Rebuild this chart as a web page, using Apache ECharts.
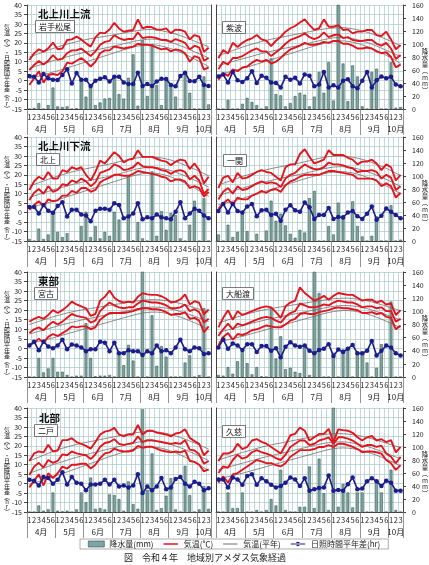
<!DOCTYPE html>
<html><head><meta charset="utf-8">
<script src="https://cdn.jsdelivr.net/npm/echarts@6/dist/echarts.min.js"></script>
<style>html,body{margin:0;padding:0;background:#fff}#c{width:429px;height:565px}</style>
</head><body><div id="c"></div>
<script>
const pentads = ['1','2','3','4','5','6','1','2','3','4','5','6','1','2','3','4','5','6','1','2','3','4','5','6','1','2','3','4','5','6','1','2','3','4','5','6','1','2','3'];
const months = ['4月','5月','6月','7月','8月','9月','10月'];
const monthStarts = [0,6,12,18,24,30,36,39];
const monthCenters = [3,9,15,21,27,33,37.5];
const regionNames = ['北上川上流','北上川下流','東部','北部'];
const stationNames = ['岩手松尾','紫波','北上','一関','宮古','大船渡','二戸','久慈'];
const seriesNames = ['降水量(mm)','気温(℃)','気温(平年)','日照時間平年差(hr)'];
const leftTitle = '気温(℃)・日照時間平年差(hr)';
const rightTitle = '降水量(mm)';
const figTitle = '図　令和４年　地域別アメダス気象経過';

// 岩手松尾
const matsuoMax = [10.9,14.4,16.6,15.3,17.1,20.1,16.6,17,21.5,21.8,23.3,21.8,19.7,18,22.9,25.4,25,27,30.6,27.6,25.9,26.4,26.8,32.4,27.6,28.5,28.2,27,27,27.6,25,27,26.8,25.9,21.8,24.1,23.3,15.3,17.4];
const matsuoMean = [5.6,8.3,10.4,8.5,10.5,13.5,11,11.5,14.5,16,16,17,15,13,15.5,19,20.5,21,24,22.5,21.5,22,22,25.5,22.5,23,23,22.5,21.5,21.5,20.5,22,21,20,16.5,18.5,17.5,10.5,12];
const matsuoMin = [-2.3,1.2,5,-1.1,3,3.5,3,5,9.5,9,10.5,12,10,7.5,10,14.5,16,16,18,17.5,17,17.5,18,19.5,19,19,18.5,17.5,16.5,17,15.5,16.5,16,14.5,10,13,12,5.8,7];
const matsuoNMax = [12.5,13.4,14.3,15.2,16.1,17.0,17.8,18.6,19.3,20.0,20.6,21.2,21.7,22.2,22.6,23.0,23.4,23.8,24.2,24.7,25.2,25.7,26.1,26.5,26.8,27.0,27.0,26.8,26.4,25.9,25.3,24.6,23.8,22.9,21.9,20.9,19.9,18.9,17.9];
const matsuoNMean = [6.5,7.3,8.1,8.9,9.7,10.5,11.2,11.9,12.6,13.3,13.9,14.5,15.1,15.7,16.2,16.7,17.2,17.7,18.3,18.9,19.5,20.1,20.7,21.2,21.6,21.9,22.0,21.8,21.4,20.9,20.2,19.4,18.5,17.5,16.4,15.3,14.2,13.1,12.0];
const matsuoNMin = [1.0,1.7,2.4,3.1,3.8,4.5,5.2,5.9,6.7,7.5,8.3,9.1,9.9,10.7,11.5,12.3,13.1,13.9,14.7,15.5,16.3,17.0,17.7,18.3,18.7,19.0,19.0,18.8,18.3,17.7,16.9,16.0,15.0,13.9,12.7,11.4,10.1,8.8,7.5];
const matsuoSun = [2.4,2,-1,3.5,1.2,0.5,0.4,3,6,-1.5,4,0.5,0.5,-2.9,0,1,1.8,-0.5,2,2,-1,-1.8,-1.8,4.2,-2.8,-1.8,-2.8,-0.5,1,0.8,-2.3,-3,2.4,4.2,-0.2,-0.3,2,-2.3,-2.8];
const matsuoPrec = [0,1.5,9,0,6,33,4,3,4,0,1,44,19,33,6,10,16,17,46,23,16,48,84,5,106,20,100,37,6,47,38,19,0,54,25,0,0,50,7];

// 紫波
const shiwaMax = [11.8,16.2,14.4,20,17.8,20,21.5,22.4,24.1,21.8,21.1,18.3,21.1,23.2,25.9,27.7,28.9,30.7,32.4,29.4,26.8,27.7,32.4,28.5,28.5,29.4,26.8,27.1,25,25.9,25.9,26.8,26.8,24.1,23.6,25.9,21.8,16.6,18.8];
const shiwaMean = [6,10,8.5,12,12,13,14.5,16,17,15.5,15.5,13,15,17,19.5,21.5,22.5,23.5,25,23,22,23,25.5,23,24,24.5,22.5,23,21.5,21,21,21.5,21.5,19.5,18.5,20,17,11.5,13.5];
const shiwaMin = [0.5,4,2.5,6,5,7,7.5,9.5,11,10,11,9,10,12,14.5,16.5,17.5,18.5,20,19,19,19.5,20.5,20,21,21,19.5,19.5,18.5,17,17,17.5,17,15.5,14.5,15,12.5,7,8.5];
const shiwaNMax = [13.2,14.1,15.0,15.9,16.8,17.7,18.5,19.3,20.0,20.7,21.3,21.9,22.4,22.9,23.4,23.9,24.4,24.9,25.4,25.9,26.4,26.9,27.3,27.6,27.8,28.0,28.0,27.8,27.4,26.9,26.3,25.6,24.8,23.9,22.9,21.9,20.8,19.6,18.3];
const shiwaNMean = [8.0,8.7,9.4,10.1,10.8,11.5,12.2,12.9,13.6,14.3,14.9,15.5,16.1,16.7,17.2,17.7,18.2,18.7,19.3,19.9,20.5,21.1,21.7,22.2,22.6,22.8,22.8,22.6,22.2,21.7,21.0,20.2,19.3,18.3,17.2,16.1,15.0,13.9,12.8];
const shiwaNMin = [3.0,3.7,4.4,5.1,5.8,6.5,7.2,7.9,8.7,9.5,10.3,11.1,11.9,12.7,13.5,14.3,15.1,15.9,16.7,17.5,18.3,19.0,19.7,20.3,20.7,21.0,21.0,20.8,20.3,19.7,18.9,18.0,17.0,15.9,14.7,13.4,12.1,10.6,9.0];
const shiwaSun = [2.2,3.2,-1,4.6,0.2,-0.7,1.2,5,-1.2,2.6,1.5,-1,-1.2,-3.6,2,0.5,1.5,-1.5,3.3,2.6,-3,-2,4.6,-3.6,-2.5,-3.6,0,0.7,-3,-4,0,4.6,-3.6,0.2,2.2,1.2,2,-2,-3];
const shiwaPrec = [0,0,14,0,0,8,17,11,6,0,4,78,23,21,4,9,20,25,22,4,19,57,25,72,13,165,70,12,67,50,4,0,57,62,0,0,72,2,3];

// 北上
const kitakamiMax = [12,16.5,19,17.5,21.5,18,18,22.5,21.5,24,23,24,20,17,21.5,27.5,26,29,32,30,26.5,28,28.5,33,29.5,29.5,29.5,28.5,27.5,27,25,27,28,27.5,23,26,22.5,15.5,19];
const kitakamiMean = [6.5,10.5,12.5,10,14,11,12,15,14.5,17,16,18,16.5,14,16,21,22,23,25.5,24.5,22.5,23,24,26.5,24.5,24,24,23.5,22.5,22,20.5,22,22.5,21.5,17.5,19.5,17,10,12.5];
const kitakamiMin = [1.5,4,6,3.5,7,6,6.5,9,9,11.5,10.5,13,13,11,12,16,17.5,18.5,20,20,19.5,19.5,20.5,22,21.5,21,20.5,20,19,18.5,16.5,17.5,17.5,16.5,13,14,13,8.5,11];
const kitakamiNMax = [14.0,14.9,15.8,16.7,17.6,18.5,19.3,20.1,20.8,21.5,22.1,22.7,23.2,23.7,24.2,24.7,25.2,25.7,26.3,26.9,27.5,28.1,28.6,29.0,29.3,29.5,29.5,29.3,28.9,28.4,27.8,27.0,26.1,25.1,24.1,23.0,21.9,20.7,19.5];
const kitakamiNMean = [8.0,8.8,9.6,10.4,11.2,12.0,12.7,13.4,14.1,14.8,15.4,16.0,16.6,17.2,17.7,18.2,18.7,19.2,19.8,20.5,21.2,21.9,22.6,23.2,23.6,23.9,24.0,23.8,23.4,22.9,22.2,21.4,20.4,19.4,18.3,17.2,16.1,14.8,13.5];
const kitakamiNMin = [2.5,3.2,3.9,4.6,5.3,6.0,6.8,7.6,8.4,9.2,10.0,10.8,11.6,12.4,13.2,14.0,14.8,15.6,16.4,17.2,18.0,18.8,19.5,20.1,20.6,20.9,21.0,20.8,20.3,19.7,18.9,17.9,16.8,15.6,14.3,13.0,11.6,10.1,8.6];
const kitakamiSun = [3,3,-0.5,4,1,0,3.5,5.5,-2,1.5,1.5,-1,-1.5,-4.5,1,2,2,1.5,5,4,-3,-2,-0.5,5,-3.5,-2.5,-3,-1,-2.5,-3,-3.5,0.5,5.5,-3,-0.5,2,1,-1.5,-3];
const kitakamiPrec = [3,0,19,3,10,45,14,6,12,0,0,23,45,6,23,4,14,8,45,33,0,100,1,29,4,0,107,8,46,17,43,40,4,0,25,62,0,66,0];

// 一関
const ichinosekiMax = [13,18.5,19.5,16,21,18,18.5,20,21.5,22.5,21.5,21,19,17,24,25.5,25.5,31,33.5,29.5,26,27,28,33,30.5,30.5,30.5,29,28,25.5,27,27,28,26,22.5,25.5,24,17,20];
const ichinosekiMean = [7,11,13,10,14,12,12.5,14,15.5,16.5,15.5,16,15.5,13.5,18,20,21,23.5,25.5,24,23,23,24,26.5,25.5,25.5,25,24,23.5,21.5,22,22,22.5,21.5,18,20,18.5,12,14];
const ichinosekiMin = [2,5,7,4,8,7,7,9,10,11.5,10.5,12,12.5,11,14.5,16.5,17.5,19,20,20,20,20,21,22,22,21.5,21,20.5,20,18,18,18,18,17,14,15.5,14,8,10.5];
const ichinosekiNMax = [14.6,15.5,16.4,17.3,18.2,19.1,19.9,20.7,21.4,22.1,22.7,23.3,23.8,24.3,24.8,25.3,25.8,26.3,26.9,27.5,28.1,28.7,29.2,29.6,29.8,29.9,29.9,29.7,29.3,28.8,28.2,27.4,26.5,25.5,24.5,23.4,22.2,20.9,19.6];
const ichinosekiNMean = [9.0,9.8,10.6,11.4,12.2,13.0,13.7,14.4,15.1,15.8,16.4,17.0,17.6,18.2,18.7,19.2,19.7,20.2,20.8,21.4,22.0,22.6,23.2,23.7,24.1,24.3,24.3,24.1,23.7,23.2,22.5,21.7,20.8,19.8,18.7,17.6,16.4,15.1,13.8];
const ichinosekiNMin = [4.0,4.7,5.4,6.1,6.8,7.5,8.3,9.1,9.9,10.7,11.5,12.3,13.1,13.9,14.7,15.5,16.3,17.1,17.9,18.6,19.3,20.0,20.6,21.1,21.4,21.6,21.6,21.4,21.0,20.4,19.6,18.7,17.7,16.6,15.4,14.1,12.8,11.4,10.0];
const ichinosekiSun = [0.8,4.6,0.1,4.6,0.8,0.1,3.2,4.6,-1.9,1.2,1.5,-1.3,-0.6,-4.3,1.5,3.9,1.2,0.5,5.3,2.9,-3.3,-1.3,-1.3,2.5,-3.3,-2.3,-2.6,0.1,0.8,-1.9,-3.3,-0.6,3.2,-3.7,-1.6,2.2,0.5,-1.3,-3];
const ichinosekiPrec = [10,0,25,6,14,42,15,0,11,0,16,62,31,42,24,11,5,17,13,66,77,0,0,23,10,59,40,0,61,23,7,0,8,38,0,0,55,0,2];

// 宮古
const miyakoMax = [13.9,15.5,16.5,15.5,17.5,20,18.5,20,22,24.5,23,22,21,17,18,25,27,30.3,26.5,24.8,24,24.5,24,27,28.9,28.3,28,28,27.3,26,24,24.5,25.6,28.3,23,24.7,23.9,17.8,20.4];
const miyakoMean = [8,10,11,9.5,12,14,12.5,14,16,18,17,16.5,16,13.5,14.5,19.5,22,24,22.5,21.5,21,21.5,21.5,23.5,25,24.5,24,24,23.5,22.5,21,21,21.5,23,19.5,20.5,19,13.5,15.5];
const miyakoMin = [1.5,3,5,3,6,7.5,6.5,8,9.5,11.5,11,11.5,11.5,10,11,15,17,18.5,18.5,18.5,18.5,19,19.5,20.5,21,21,20.5,20.5,20,19,17.5,18,18,19,15.5,16,14.5,8.5,11.5];
const miyakoNMax = [12.5,13.3,14.1,14.9,15.7,16.5,17.2,17.9,18.5,19.1,19.6,20.1,20.5,20.9,21.3,21.7,22.1,22.5,22.9,23.3,23.7,24.1,24.5,24.9,25.2,25.4,25.5,25.5,25.3,25.0,24.6,24.1,23.5,22.8,22.1,21.3,20.5,19.7,18.9];
const miyakoNMean = [7.5,8.2,8.9,9.6,10.3,11.0,11.7,12.4,13.0,13.6,14.2,14.8,15.3,15.8,16.3,16.8,17.3,17.8,18.3,18.8,19.3,19.8,20.3,20.8,21.2,21.5,21.6,21.6,21.4,21.1,20.6,20.0,19.3,18.5,17.7,16.8,15.9,15.0,14.0];
const miyakoNMin = [2.5,3.1,3.7,4.3,4.9,5.5,6.2,6.9,7.6,8.3,9.0,9.7,10.4,11.1,11.8,12.5,13.2,13.9,14.6,15.3,16.0,16.7,17.4,18.0,18.5,18.8,19.0,19.0,18.8,18.4,17.9,17.2,16.4,15.5,14.5,13.4,12.3,11.1,9.9];
const miyakoSun = [1.5,3.5,-1,3.5,1,0,1.5,4.5,-0.5,2,1.5,0.5,-1.5,-0.5,-0.5,3.5,3,-1.5,3,-2.5,-2.5,-1,-1.5,-1.5,-3.5,-1.5,-2.5,1.5,-1.5,-1,-2.5,0.5,4.5,-0.5,-1.5,0.5,0,-3,-2.5];
const miyakoPrec = [0,0,29,7,13,29,8,8,3,0,2,2,82,29,1,2,2,3,0,35,18,49,25,0,170,0,94,17,47,31,0,0,0,22,33,0,3,105,0];

// 大船渡
const ofunatoMax = [11,16,20,15,19.5,17.5,18.5,19.5,20.5,21.5,22,21.5,19,16,22,24,25,32,29,27,25,26,27.5,25.5,27.5,29,28.5,28,28,26.5,25,25.5,25.5,24,25,23,23.5,17.5,20];
const ofunatoMean = [6.5,10,13,10,13,12,13,14,15,16,16.5,16,14.5,13.5,16.5,18.5,19.5,23.5,22.5,21.5,21.5,22,23,22.5,24,25,24.5,24,24,23,21.5,22,22,21,21.5,19.5,19.5,14,15.5];
const ofunatoMin = [1.5,6,8,4.5,7.5,7,8,9.5,10,11,12,11.5,11,11,12.5,14.5,15.5,18,18.5,18,18,19,19.5,20,21,21.5,21,21,20.5,20,18.5,18.5,19,18,18.5,16.5,16,10,12];
const ofunatoNMax = [13.3,14.1,14.9,15.7,16.5,17.3,18.0,18.7,19.3,19.9,20.4,20.9,21.3,21.7,22.1,22.5,22.9,23.3,23.7,24.1,24.5,24.9,25.3,25.7,26.0,26.2,26.3,26.3,26.1,25.8,25.4,24.9,24.3,23.6,22.9,22.1,21.3,20.5,19.7];
const ofunatoNMean = [8.3,9.0,9.7,10.4,11.1,11.8,12.5,13.2,13.8,14.4,15.0,15.6,16.1,16.6,17.1,17.6,18.1,18.6,19.1,19.6,20.1,20.6,21.1,21.6,22.0,22.3,22.4,22.4,22.2,21.9,21.4,20.8,20.1,19.3,18.5,17.6,16.7,15.8,14.8];
const ofunatoNMin = [3.3,3.9,4.5,5.1,5.7,6.3,7.0,7.7,8.4,9.1,9.8,10.5,11.2,11.9,12.6,13.3,14.0,14.7,15.4,16.1,16.8,17.5,18.2,18.8,19.3,19.6,19.8,19.8,19.6,19.2,18.7,18.0,17.2,16.3,15.3,14.2,13.1,11.9,10.7];
const ofunatoSun = [0.5,4.6,-0.2,2.5,1.5,-0.9,2.2,2.2,-1.9,1.2,1.2,-1.3,0.1,-4.7,0.8,3.2,1.5,0.8,1.5,-1.3,-2.6,-0.9,-0.2,2.2,-4,-0.6,-1.9,-0.2,1.8,-2.6,-2.6,-1.3,3.9,-3.7,-1.3,1.5,0.5,-2.6,-3.7];
const ofunatoPrec = [3,2,15,5,24,38,21,4,15,1,0,105,28,62,12,14,8,6,48,3,170,128,0,0,37,0,42,43,0,37,37,22,0,14,50,0,115,0,0];

// 二戸
const ninoheMax = [12,16,17,16.5,20.5,17,17.5,23,23,24,22,21,20,18.5,22,26,27.5,28,29.5,26,25,26,26,31,26,28,28,27,26.5,26,25,26.5,27,28.8,24.2,22.5,21,15,17.5];
const ninoheMean = [4.5,9,11,8.5,12.5,11,12,15.5,15,17,16,15.5,15,13,15.5,19.5,21.5,22,23.5,21,20.5,21,21.5,25,22,23,23,22.5,22,21.5,21,21.5,21,23,18,17.5,15.5,10.5,12];
const ninoheMin = [-2,1.5,5,-1,5.5,3,5.5,9,8,10,10,10.5,10.5,8,10,13.5,16,16.5,18.5,17.5,17,17,17.5,20,19,19.5,19.5,18.5,17.5,17,16.5,17,16.5,17.5,12,11.5,10,6.5,7.5];
const ninoheNMax = [12.0,13.0,14.0,15.0,16.0,17.0,17.9,18.7,19.4,20.1,20.7,21.3,21.8,22.3,22.8,23.3,23.8,24.3,24.8,25.3,25.8,26.3,26.7,27.1,27.4,27.6,27.6,27.4,27.0,26.5,25.9,25.2,24.4,23.5,22.5,21.5,20.5,19.4,18.3];
const ninoheNMean = [5.5,6.4,7.3,8.2,9.1,10.0,10.8,11.6,12.4,13.2,13.9,14.6,15.3,16.0,16.6,17.2,17.8,18.4,19.0,19.6,20.2,20.8,21.4,21.9,22.3,22.5,22.5,22.3,21.9,21.4,20.7,19.9,19.0,18.0,16.9,15.8,14.6,13.4,12.2];
const ninoheNMin = [-0.5,0.3,1.1,1.9,2.7,3.5,4.4,5.3,6.2,7.1,8.0,8.9,9.8,10.7,11.6,12.5,13.4,14.3,15.1,15.9,16.7,17.5,18.2,18.8,19.2,19.4,19.4,19.2,18.7,18.1,17.3,16.3,15.2,14.0,12.7,11.3,9.9,8.4,6.9];
const ninoheSun = [2,1.5,-1,3.5,3,0,2,6,-0.5,3.5,0.5,0,-3.5,-0.5,-0.5,0,2,-0.5,2,-1.5,-1,-2,-1,5,-5,-1.5,-3.5,-1.5,3,-3,-2,2.5,3.5,0,-1.5,1,0,-3.5,-2.5];
const ninohePrec = [0,0,10,2,4,30,2,1,2,0,4,30,15,53,5,6,4,27,26,20,2,47,12,5,158,34,90,3,6,25,52,4,0,71,26,0,4,40,5];

// 久慈
const kujiMax = [11.8,15.9,15.9,17,21.1,18.3,19.4,22.8,23.5,22.1,21.1,19.4,17.7,15.9,20.4,25.6,26.3,29.7,28,22.8,24.5,26.3,26.3,29,22.1,28.7,28.3,28,26.9,24.5,22.8,24.5,25.2,22.8,23.5,22,23,16.5,19.4];
const kujiMean = [5.6,9.1,8.4,12.5,15.3,13.2,14.2,16.6,17.7,16.6,15.9,14.9,13.5,12.5,15.3,19.4,21.1,22.8,22.8,20.4,21.1,22.8,23.5,24.5,21.1,24.5,24.5,23.8,22.8,21.1,19.4,20.4,20.4,19.4,20.1,15.9,14.2,10.8,14.2];
const kujiMin = [0.5,3.9,0.5,4.9,5.6,7.3,9.1,10.8,12.5,11.8,10.8,10.8,9.8,9.1,10.8,14.2,15.9,17.7,17.7,17.7,18.3,19.4,19.4,20.4,19.4,21.1,21.1,20.4,19.4,18.3,16.6,17,17,16.6,15.9,12.5,10.8,7.3,9.8];
const kujiNMax = [12.5,13.3,14.1,14.9,15.7,16.5,17.2,17.9,18.6,19.3,19.9,20.5,21.0,21.5,22.0,22.5,23.0,23.5,24.0,24.5,25.0,25.5,25.9,26.2,26.4,26.5,26.4,26.2,25.9,25.5,25.0,24.4,23.7,23.0,22.2,21.4,20.6,19.8,19.0];
const kujiNMean = [7.3,8.0,8.7,9.4,10.1,10.8,11.5,12.2,12.9,13.6,14.2,14.8,15.4,16.0,16.6,17.2,17.8,18.4,19.0,19.6,20.2,20.8,21.3,21.7,22.0,22.1,22.1,21.9,21.5,21.0,20.4,19.7,18.9,18.0,17.1,16.1,15.1,14.1,13.1];
const kujiNMin = [2.5,3.1,3.7,4.3,4.9,5.5,6.2,6.9,7.6,8.3,9.0,9.7,10.4,11.1,11.8,12.5,13.2,13.9,14.6,15.3,16.0,16.7,17.4,18.0,18.5,18.8,18.9,18.8,18.5,18.0,17.4,16.7,15.9,15.0,14.0,12.9,11.8,10.6,9.4];
const kujiSun = [2.2,2.2,-2,3.2,2.2,-0.6,4,5,-0.6,2.9,1.2,-0.6,-2,-1.3,0.5,3.2,2.2,-1.3,2.9,-3.7,-3,-2.3,-2,4.3,-3.7,-3.3,-3.7,-0.3,3.2,-3,-2.6,1.2,2.9,1.2,-1.3,1.5,0.5,-3.7,-3.7];
const kujiPrec = [0,0,30,6,6,30,0,0,3,0,3,20,10,65,3,0,0,8,8,70,6,82,29,3,165,8,43,30,7,30,30,0,0,45,30,0,65,3,0];

const stations = [
  {max:matsuoMax, mean:matsuoMean, min:matsuoMin, nmax:matsuoNMax, nmean:matsuoNMean, nmin:matsuoNMin, sun:matsuoSun, prec:matsuoPrec},
  {max:shiwaMax, mean:shiwaMean, min:shiwaMin, nmax:shiwaNMax, nmean:shiwaNMean, nmin:shiwaNMin, sun:shiwaSun, prec:shiwaPrec},
  {max:kitakamiMax, mean:kitakamiMean, min:kitakamiMin, nmax:kitakamiNMax, nmean:kitakamiNMean, nmin:kitakamiNMin, sun:kitakamiSun, prec:kitakamiPrec},
  {max:ichinosekiMax, mean:ichinosekiMean, min:ichinosekiMin, nmax:ichinosekiNMax, nmean:ichinosekiNMean, nmin:ichinosekiNMin, sun:ichinosekiSun, prec:ichinosekiPrec},
  {max:miyakoMax, mean:miyakoMean, min:miyakoMin, nmax:miyakoNMax, nmean:miyakoNMean, nmin:miyakoNMin, sun:miyakoSun, prec:miyakoPrec},
  {max:ofunatoMax, mean:ofunatoMean, min:ofunatoMin, nmax:ofunatoNMax, nmean:ofunatoNMean, nmin:ofunatoNMin, sun:ofunatoSun, prec:ofunatoPrec},
  {max:ninoheMax, mean:ninoheMean, min:ninoheMin, nmax:ninoheNMax, nmean:ninoheNMean, nmin:ninoheNMin, sun:ninoheSun, prec:ninohePrec},
  {max:kujiMax, mean:kujiMean, min:kujiMin, nmax:kujiNMax, nmean:kujiNMean, nmin:kujiNMin, sun:kujiSun, prec:kujiPrec}
];

const FONT = '"Noto Sans CJK JP", "Noto Sans", sans-serif';
const GRIDC = '#a9c8c8';
const AXC = '#444';
const RED = '#e3141e';
const NORMC = '#6e6e6e';
const BLUE = '#1c1c8c';
const panelTops = [5, 137, 272, 408];
const panelH = [104, 104, 105, 104];

const grids = [], xAxes = [], yAxes = [], series = [], graphics = [];

stations.forEach((st, g) => {
  const p = Math.floor(g / 2), side = g % 2;
  grids.push({left: side ? 216 : 27, width: side ? 187 : 184, top: panelTops[p], height: panelH[p]});
  xAxes.push({
    type: 'category', gridIndex: g, data: pentads, boundaryGap: true, position: 'bottom',
    axisLine: {onZero: false, lineStyle: {color: AXC, width: 1}},
    axisTick: {show: false},
    axisLabel: {interval: 0, fontSize: 7.5, margin: 4, color: '#222', fontFamily: FONT},
    splitLine: {show: true, interval: 0, lineStyle: {color: GRIDC, width: 0.7}}
  });
  xAxes.push({
    type: 'value', gridIndex: g, min: 0, max: 39, position: 'bottom',
    axisLine: {show: false, onZero: false},
    splitLine: {show: false},
    axisTick: {show: true, customValues: monthStarts, length: 26, lineStyle: {color: '#777', width: 0.8}},
    axisLabel: {customValues: monthCenters, margin: 16, fontSize: 8, color: '#222', fontFamily: FONT,
      formatter: v => { const k = monthCenters.indexOf(v); return k >= 0 ? months[k] : ''; }}
  });
  yAxes.push({
    type: 'value', gridIndex: g, min: -15, max: 40, interval: 5, position: 'left',
    axisLine: {show: true, onZero: false, lineStyle: {color: AXC, width: 1}},
    axisTick: {show: side === 0, length: 3, lineStyle: {color: AXC}},
    axisLabel: {show: side === 0, fontSize: 7, margin: 5, color: '#222', fontFamily: FONT},
    splitLine: {show: true, lineStyle: {color: GRIDC, width: 0.7}}
  });
  yAxes.push({
    type: 'value', gridIndex: g, min: 0, max: 160, interval: 20, position: 'right',
    axisLine: {show: true, onZero: false, lineStyle: {color: AXC, width: 1}},
    axisTick: {show: side === 1, length: 3, lineStyle: {color: AXC}},
    axisLabel: {show: side === 1, fontSize: 7, margin: 9, color: '#222', fontFamily: FONT},
    splitLine: {show: false}
  });
  const xi = 2 * g, yl = 2 * g, yr = 2 * g + 1;
  series.push({name: seriesNames[0], type: 'bar', xAxisIndex: xi, yAxisIndex: yr, data: st.prec, barWidth: 2.8,
    itemStyle: {color: '#7ea59f', borderColor: '#2c4a46', borderWidth: 0.5}, z: 1});
  [st.nmax, st.nmean, st.nmin].forEach(d => series.push({name: seriesNames[2], type: 'line', xAxisIndex: xi, yAxisIndex: yl,
    data: d, symbol: 'none', lineStyle: {color: NORMC, width: 0.8}, itemStyle: {color: NORMC}, z: 2}));
  [st.max, st.mean, st.min].forEach(d => series.push({name: seriesNames[1], type: 'line', xAxisIndex: xi, yAxisIndex: yl,
    data: d, symbol: 'none', lineStyle: {color: RED, width: 1.9}, itemStyle: {color: RED}, z: 3}));
  series.push({name: seriesNames[3], type: 'line', xAxisIndex: xi, yAxisIndex: yl, data: st.sun,
    symbol: 'circle', symbolSize: 4.5, lineStyle: {color: BLUE, width: 1.6}, itemStyle: {color: BLUE}, z: 4});
});

const vert = s => s.replace(/\(/g, '︵').replace(/\)/g, '︶').split('').join('\n');
const boxStyle = {fill: '#111', backgroundColor: '#fff', borderColor: '#555', borderWidth: 0.8, padding: [2, 3, 1, 3]};
const regionPos = [[38, 9], [38, 141], [38, 276], [39, 413]];
const leftBoxPos = [[36, 21], [37, 154], [35, 288], [35, 425]];
const rightBoxPos = [[223, 22], [224, 155], [223, 288], [223, 426]];
panelTops.forEach((t, p) => {
  graphics.push({type: 'text', x: regionPos[p][0], y: regionPos[p][1], z: 10,
    style: {text: regionNames[p], font: 'bold 10.5px ' + FONT, fill: '#111'}});
  graphics.push({type: 'text', x: leftBoxPos[p][0], y: leftBoxPos[p][1], z: 10,
    style: Object.assign({text: stationNames[2 * p], font: '8px ' + FONT}, boxStyle)});
  graphics.push({type: 'text', x: rightBoxPos[p][0], y: rightBoxPos[p][1], z: 10,
    style: Object.assign({text: stationNames[2 * p + 1], font: '8px ' + FONT}, boxStyle)});
  graphics.push({type: 'text', x: 7, y: t + 63, z: 10,
    style: {text: vert(leftTitle), font: '6px ' + FONT, lineHeight: 5.1, align: 'center', verticalAlign: 'middle', fill: '#222'}});
  graphics.push({type: 'text', x: 425, y: t + 66, z: 10,
    style: {text: vert(rightTitle), font: '6.5px ' + FONT, lineHeight: 6.5, align: 'center', verticalAlign: 'middle', fill: '#222'}});
});
graphics.push({type: 'text', x: 205, y: 558, z: 10,
  style: {text: figTitle, font: '9px ' + FONT, fill: '#222', align: 'center', verticalAlign: 'middle'}});

const lineIcon = 'path://M0,0L0.01,0L0.01,0.01Z M0,4.2L24,4.2L24,5.8L0,5.8Z M23.99,10L24,10L24,9.99Z';
const thickIcon = 'path://M0,0L0.01,0L0.01,0.01Z M0,3.6L24,3.6L24,6.4L0,6.4Z M23.99,10L24,10L24,9.99Z';
const dotIcon = 'path://M0,0L0.01,0L0.01,0.01Z M0,4L24,4L24,6L0,6Z M12,5m-3.6,0a3.6,3.6 0 1,0 7.2,0a3.6,3.6 0 1,0 -7.2,0 M23.99,10L24,10L24,9.99Z';

const chart = echarts.init(document.getElementById('c'), null, {renderer: 'canvas'});
chart.setOption({
  animation: false,
  backgroundColor: '#fff',
  grid: grids, xAxis: xAxes, yAxis: yAxes, series: series,
  legend: {
    data: [
      {name: seriesNames[0], icon: 'rect', itemStyle: {color: '#7ea59f', borderColor: '#2c4a46', borderWidth: 0.6}},
      {name: seriesNames[1], icon: thickIcon},
      {name: seriesNames[2], icon: lineIcon},
      {name: seriesNames[3], icon: dotIcon}
    ],
    left: 80, top: 539, itemWidth: 16, itemHeight: 6, itemGap: 10, padding: [1, 8],
    borderColor: '#999', borderWidth: 0.8,
    itemStyle: {borderWidth: 0},
    textStyle: {fontSize: 8, fontFamily: FONT, color: '#222'}
  },
  graphic: graphics
});
</script></body></html>
